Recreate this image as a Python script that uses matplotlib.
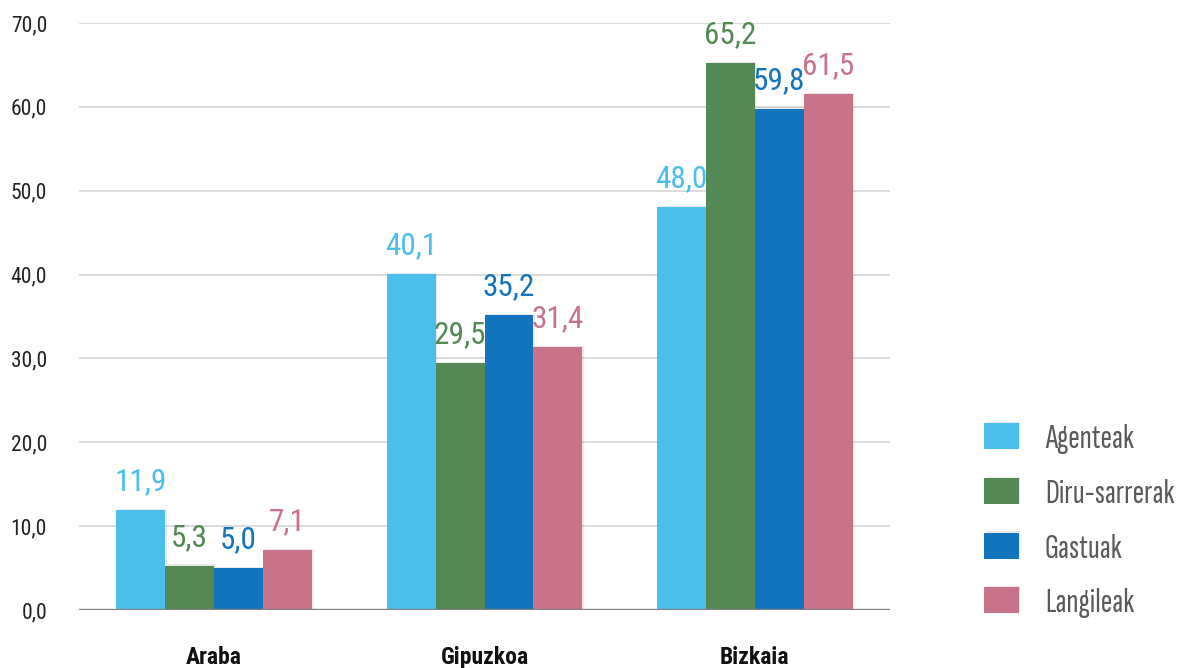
import matplotlib
matplotlib.use("Agg")
import matplotlib.pyplot as plt
import matplotlib.patheffects as pe
import numpy as np

plt.rcParams["font.family"] = ["Roboto Condensed", "DejaVu Sans"]

provinces = ["Araba", "Gipuzkoa", "Bizkaia"]
series = ["Agenteak", "Diru-sarrerak", "Gastuak", "Langileak"]
agenteak = [11.9, 40.1, 48.0]
diru_sarrerak = [5.3, 29.5, 65.2]
gastuak = [5.0, 35.2, 59.8]
langileak = [7.1, 31.4, 61.5]
values = [agenteak, diru_sarrerak, gastuak, langileak]
colors = ["#4BBEEC", "#548854", "#1274BD", "#C8738A"]
yticks = [0, 10, 20, 30, 40, 50, 60, 70]

fig = plt.figure(figsize=(11.91, 6.68), dpi=100)
ax = fig.add_axes([79 / 1191, 1 - 610 / 668, 811 / 1191, 587 / 668])

x = np.arange(len(provinces))
w = 0.181
shadow = [pe.SimplePatchShadow(offset=(1.2, 0.8), shadow_rgbFace="#888888", alpha=0.18), pe.Normal()]
for k, (name, vals, c) in enumerate(zip(series, values, colors)):
    xs = x + (k - 1.5) * w
    bars = ax.bar(xs, vals, width=w, color=c, label=name, zorder=2)
    for b in bars:
        b.set_path_effects(shadow)
    for xi, v in zip(xs, vals):
        ax.annotate(f"{v:.1f}".replace(".", ","), (xi, v), xytext=(0, 10), textcoords="offset points",
                    ha="center", va="bottom", fontsize=22.5, color=c)

ax.set_xlim(-0.5, 2.5)
ax.set_ylim(0, 70)
ax.set_yticks(yticks)
ax.set_yticklabels([f"{t:.1f}".replace(".", ",") for t in yticks], fontsize=15.5, color="#222222")
ax.set_xticks(x)
ax.set_xticklabels(provinces, fontsize=17, fontweight="bold", color="#111111")
ax.tick_params(axis="y", length=0, pad=23)
ax.tick_params(axis="x", length=0, pad=26)
ax.grid(axis="y", color="#D5D5D5", lw=1.2, zorder=0)
ax.set_axisbelow(True)
for s in ax.spines.values():
    s.set_visible(False)
ax.axhline(0, color="#7F8080", lw=2.4, zorder=3)

fig.legend(loc="upper left", bbox_to_anchor=(984 / 1191, 1 - 423 / 668), frameon=False,
           borderpad=0, borderaxespad=0,
           prop={"family": ["Sofia Sans Extra Condensed", "Roboto Condensed"], "size": 25, "weight": "light"},
           labelcolor="#5A5A5A",
           handlelength=1.0, handleheight=0.78, handletextpad=0.75, labelspacing=0.68)

fig.savefig("out.png", dpi=100)
